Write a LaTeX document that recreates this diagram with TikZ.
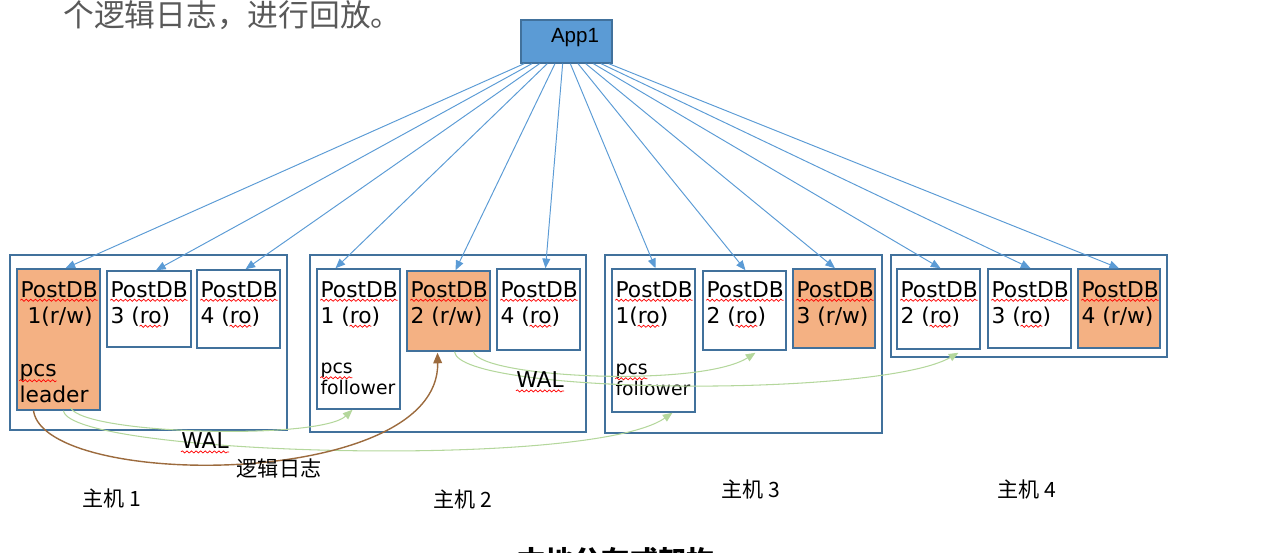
\documentclass[tikz,border=0pt]{standalone}
\usepackage{fontspec}
\setmainfont{DejaVu Sans}
\newfontfamily\cjk{Noto Sans CJK SC}
\newfontfamily\arialf{Liberation Sans}
\usepackage{tikz}
\usetikzlibrary{arrows.meta,positioning,calc,fit,decorations.pathmorphing}
\definecolor{appblue}{HTML}{5B9BD5}
\definecolor{hostblue}{HTML}{41719C}
\definecolor{dborange}{HTML}{F4B183}
\definecolor{walgreen}{HTML}{B4D79C}
\definecolor{logbrown}{HTML}{9C6B3E}
\definecolor{introgray}{HTML}{595959}
\newlength\pdbw \newlength\prew \newlength\prewb \newlength\row
\newlength\pcsw \newlength\pcsfw

\begin{document}
\settowidth\pdbw{\fontsize{12.4}{14.8}\selectfont PostDB}
\settowidth\prew{\fontsize{12.4}{14.8}\selectfont 3 (}
\settowidth\prewb{\fontsize{12.4}{14.8}\selectfont 1(}
\settowidth\row{\fontsize{12.4}{14.8}\selectfont ro}
\settowidth\pcsw{\fontsize{12.4}{14.8}\selectfont pcs}
\settowidth\pcsfw{\fontsize{10.7}{11.6}\selectfont pcs}
\begin{tikzpicture}[x=0.02cm, y=-0.02cm,
  font=\fontsize{12.4}{14.8}\selectfont,
  host/.style={draw=hostblue, line width=1.1pt, inner sep=0pt},
  db/.style={draw=hostblue, line width=0.85pt, fill=#1, inner sep=0pt},
  db/.default=white,
  dbtxt/.style={anchor=north west, align=left, inner sep=0pt},
  pcs/.style={anchor=south west, align=left, inner sep=0pt},
  link/.style={draw=appblue, line width=0.55pt, -{Triangle[length=5.5pt,width=4.5pt]}},
  wal/.style={draw=walgreen, line width=0.6pt, -{Triangle[length=5.5pt,width=4.5pt]}},
  wave/.style={draw=red, line width=0.4pt, decorate, decoration={snake, amplitude=0.6pt, segment length=2.6pt}},
  hostlab/.style={font=\cjk\fontsize{12}{14}\selectfont}]
  \useasboundingbox (0,0) rectangle (1282,553);
  \clip (0,0) rectangle (1282,553);
  % heading text and application
  \node[anchor=west, inner sep=0pt, text=introgray, font=\cjk\fontsize{17.5}{20}\selectfont] (intro) at (63,15) {个逻辑日志，进行回放。};
  \node[fill=appblue, draw=hostblue, line width=0.8pt, inner sep=0pt, fit={(521,20) (612,63)}] (app) {};
  \node[font=\arialf\fontsize{11.7}{14}\selectfont] (applab) at (575,38) {App1};
  % host 1
  \node[host, fit={(10,255) (287,430)}] (h1) {};
  \node[db=dborange, fit={(17,269) (100,410)}] (h1db1) {};
  \node[db, fit={(107,271) (191,347)}] (h1db3) {};
  \node[db, fit={(197,270) (280,348)}] (h1db4) {};
  \node[dbtxt] (h1db1t) at ($(h1db1.north west)+(4,13)$) {PostDB\\\hspace*{4pt}1(r/w)};
  \node[pcs] (h1db1p) at ($(h1db1.south west)+(3,-8)$) {pcs\\leader};
  \node[dbtxt] (h1db3t) at ($(h1db3.north west)+(4,11)$) {PostDB\\3 (ro)};
  \node[dbtxt] (h1db4t) at ($(h1db4.north west)+(4,12)$) {PostDB\\4 (ro)};
  % host 2
  \node[host, fit={(310,255) (586,432)}] (h2) {};
  \node[db, fit={(317,269) (400,409)}] (h2db1) {};
  \node[db=dborange, fit={(407,271) (490,351)}] (h2db2) {};
  \node[db, fit={(497,269) (580,350)}] (h2db4) {};
  \node[dbtxt] (h2db1t) at ($(h2db1.north west)+(4,13)$) {PostDB\\1 (ro)};
  \node[pcs, font=\fontsize{10.7}{11.6}\selectfont] (h2db1p) at ($(h2db1.south west)+(4,-15)$) {pcs\\follower};
  \node[dbtxt] (h2db2t) at ($(h2db2.north west)+(4,11)$) {PostDB\\2 (r/w)};
  \node[dbtxt] (h2db4t) at ($(h2db4.north west)+(4,13)$) {PostDB\\4 (ro)};
  % host 3
  \node[host, fit={(605,255) (882,433)}] (h3) {};
  \node[db, fit={(612,269) (695,412)}] (h3db1) {};
  \node[db, fit={(703,271) (786,350)}] (h3db2) {};
  \node[db=dborange, fit={(793,269) (875,348)}] (h3db3) {};
  \node[dbtxt] (h3db1t) at ($(h3db1.north west)+(4,13)$) {PostDB\\1(ro)};
  \node[pcs, font=\fontsize{10.7}{11.6}\selectfont] (h3db1p) at ($(h3db1.south west)+(4,-17)$) {pcs\\follower};
  \node[dbtxt] (h3db2t) at ($(h3db2.north west)+(4,11)$) {PostDB\\2 (ro)};
  \node[dbtxt] (h3db3t) at ($(h3db3.north west)+(4,13)$) {PostDB\\3 (r/w)};
  % host 4
  \node[host, fit={(891,255) (1167,357)}] (h4) {};
  \node[db, fit={(897,269) (980,349)}] (h4db2) {};
  \node[db, fit={(988,269) (1071,348)}] (h4db3) {};
  \node[db=dborange, fit={(1078,269) (1160,348)}] (h4db4) {};
  \node[dbtxt] (h4db2t) at ($(h4db2.north west)+(4,13)$) {PostDB\\2 (ro)};
  \node[dbtxt] (h4db3t) at ($(h4db3.north west)+(4,13)$) {PostDB\\3 (ro)};
  \node[dbtxt] (h4db4t) at ($(h4db4.north west)+(4,13)$) {PostDB\\4 (r/w)};
  % spell-check waves
  \foreach \t in {h1db1t,h1db3t,h1db4t,h2db1t,h2db2t,h2db4t,h3db1t,h3db2t,h3db3t,h4db2t,h4db3t,h4db4t}
    \draw[wave] ($(\t.north west)+(0,19)$) -- ++(\pdbw,0);
  \foreach \t in {h1db3t,h1db4t,h2db1t,h2db4t,h3db2t,h4db2t,h4db3t}
    \draw[wave] ($(\t.north west)+(0,45)+(\prew,0)$) -- ++(\row,0);
  \draw[wave] ($(h3db1t.north west)+(0,45)+(\prewb,0)$) -- ++(\row,0);
  \draw[wave] ($(h1db1p.south west)+(0,-22)$) -- ++(\pcsw,0);
  \foreach \t in {h2db1p,h3db1p}
    \draw[wave] ($(\t.south west)+(0,-17)$) -- ++(\pcsfw,0);
  % app to every instance
  \foreach \t/\dx [count=\i, evaluate=\i as \f using (\i-0.5)/12] in
    {h1db1/7, h1db3/7, h1db4/7, h2db1/-23, h2db2/7, h2db4/7, h3db1/2, h3db2/1, h3db3/1, h4db2/2, h4db3/1, h4db4/0}
    \draw[link] ($(app.south west)!\f!(app.south east)$) -- ($(\t.north)+(\dx,0)$);
  % WAL streams
  \draw[wal] ($(h1db1.south)+(12,-3)$) .. controls (85,435) and (320,440) .. ($(h2db1.south)+(-6,0)$);
  \draw[wal] ($(h1db1.south)+(5,0)$) .. controls (70,455) and (590,470) .. ($(h3db1.south)+(19,0)$);
  \node[inner sep=0pt] (wal1) at (205,441) {WAL};
  \draw[wave] ($(wal1.base west)+(0,3)$) -- ($(wal1.base east)+(0,3)$);
  \draw[wal] ($(h2db2.south)+(25,0)$) .. controls (480,378) and (700,388) .. ($(h3db2.south)+(11,2)$);
  \draw[wal] ($(h2db2.south)+(6,0)$) .. controls (460,395) and (880,398) .. ($(h4db2.south)+(20,3)$);
  \node[inner sep=0pt] (wal2) at (540,380) {WAL};
  \draw[wave] ($(wal2.base west)+(0,3)$) -- ($(wal2.base east)+(0,3)$);
  % logical log
  \draw[logbrown, line width=0.8pt, -{Triangle[length=6pt,width=5pt]}] ($(h1db1.south)+(-25,0)$) .. controls (45,490) and (440,490) .. ($(h2db2.south)+(-11,1)$);
  \node[font=\cjk\fontsize{12}{14}\selectfont] (loglab) at (279,468) {逻辑日志};
  % host labels
  \node[hostlab] (l1) at (112,498) {主机 1};
  \node[hostlab] (l2) at (463,499) {主机 2};
  \node[hostlab] (l3) at (751,489) {主机 3};
  \node[hostlab] (l4) at (1027,489) {主机 4};
  \node[anchor=north, font=\cjk\bfseries\fontsize{16}{18}\selectfont] (title) at (616,541) {本地分布式架构};
\end{tikzpicture}
\end{document}
